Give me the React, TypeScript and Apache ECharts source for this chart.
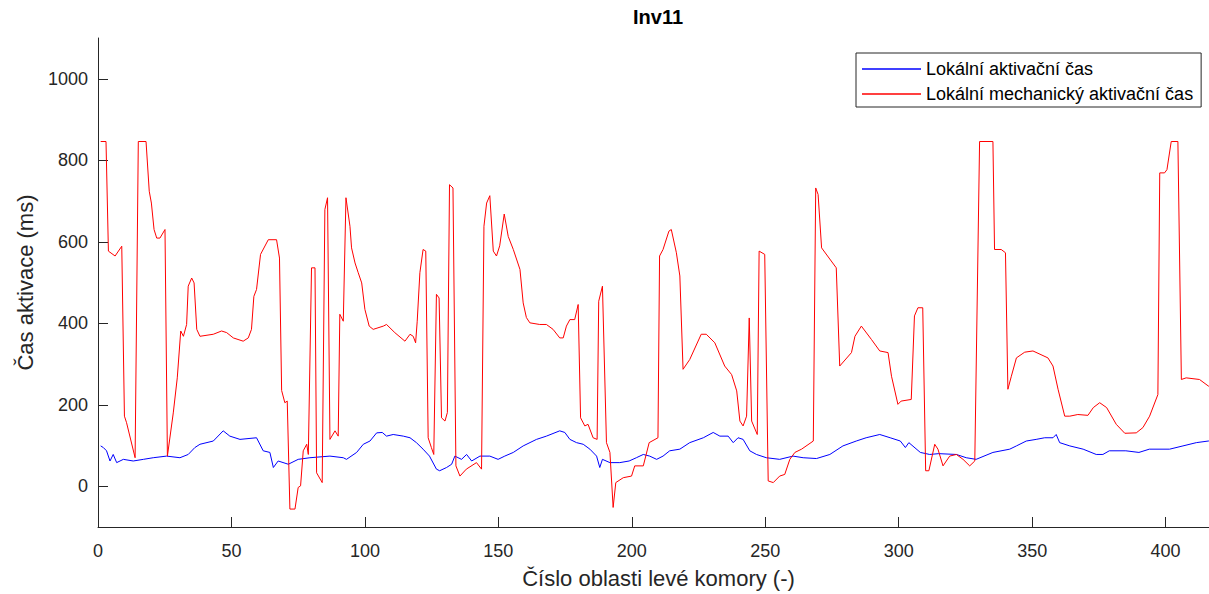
import React, { useEffect, useRef } from "react";
import * as echarts from "echarts";

const FONT = '"Liberation Sans", Arial, Helvetica, sans-serif';
const AXIS_COLOR = "#262626";

const titleText = "Inv11";
const xAxisTitle = "Číslo oblasti levé komory (-)";
const yAxisTitle = "Čas aktivace (ms)";
const seriesNames = ["Lokální aktivační čas", "Lokální mechanický aktivační čas"];

const xTicks = [0, 50, 100, 150, 200, 250, 300, 350, 400];
const yTicks = [0, 200, 400, 600, 800, 1000];

// Lokální aktivační čas (blue)
const localActivation: [number, number][] = [
  [1, 99], [2, 95], [3.2, 87], [4.5, 62], [5.7, 78], [7, 58], [9.5, 66], [13.2, 62], [17, 66],
  [20.7, 70], [25.7, 74], [30.7, 70], [33.8, 78], [36.3, 95], [38.2, 103], [43.2, 111], [46.9, 136],
  [49.4, 123], [53.2, 115], [59.4, 119], [61.9, 87], [64.4, 83], [65.7, 46], [67.5, 62], [71.3, 54],
  [75, 66], [79.4, 70], [86.9, 74], [91.9, 70], [93.1, 66], [96.9, 83], [99.4, 103], [101.9, 111],
  [104.4, 131], [106.5, 132], [108.1, 123], [110.6, 127], [114.4, 123], [116.9, 119], [119.3, 107],
  [121.8, 91], [124.2, 74], [126.8, 42], [128, 38], [130.6, 46], [132.5, 54], [133.7, 74], [136.2, 66],
  [138.1, 78], [140, 62], [143.1, 74], [146.8, 74], [149.9, 66], [152.4, 74], [155.6, 83], [159.3, 99],
  [164.3, 115], [168, 123], [173, 136], [174.9, 132], [176.8, 115], [179.3, 107], [181.8, 103],
  [184.3, 91], [186.8, 74], [188, 46], [189, 66], [191.8, 58], [195.5, 58], [199, 62], [201.7, 70],
  [204.3, 78], [206.7, 74], [209.3, 66], [211.7, 74], [214.2, 87], [218, 91], [221.7, 107],
  [226.8, 119], [230.5, 132], [233, 123], [236.1, 123], [238, 107], [239.8, 119], [241.7, 115],
  [244.2, 87], [246.7, 78], [250.4, 70], [255.4, 66], [260.4, 74], [264.2, 70], [269.2, 68],
  [274.2, 78], [279.1, 99], [284.1, 111], [287.8, 119], [292.9, 127], [296.8, 119], [300.6, 111],
  [302.5, 95], [303.8, 107], [308.1, 83], [311.6, 78], [315, 80], [321.6, 78], [325.3, 70], [329, 66],
  [335.3, 83], [341.6, 91], [344.1, 99], [347.8, 111], [351.5, 115], [354.7, 119], [357.8, 119],
  [359, 127], [360.3, 107], [364.1, 99], [369.1, 91], [374, 78], [376.5, 78], [378.9, 87], [385.1, 87],
  [390, 83], [393.9, 91], [401.5, 91], [406.5, 99], [411.5, 107], [416, 111], [418, 112],
];

// Lokální mechanický aktivační čas (red)
const mechanicalActivation: [number, number][] = [
  [1, 846], [3, 846], [3.9, 577], [6.4, 565], [8.9, 589], [9.9, 172], [10.7, 156], [13.9, 70],
  [15.1, 846], [18, 846], [19.2, 724], [20, 695], [21, 630], [22, 609], [23.2, 609], [25.1, 630],
  [26, 74], [28.2, 180], [29.7, 266], [31, 381], [32, 368], [33.2, 397], [33.8, 491], [35.1, 511],
  [36, 499], [37, 385], [38.2, 368], [43.2, 373], [46.3, 381], [48.2, 377], [50.7, 364], [54.4, 356],
  [56.3, 364], [57.5, 385], [58.4, 466], [59.4, 483], [60.9, 569], [63.8, 605], [66.9, 605],
  [68, 560], [68.8, 235], [70, 205], [70.9, 209], [71.9, -56], [73.8, -56], [75, -3], [75.9, 1],
  [76.9, 87], [78.2, 103], [78.8, 78], [80, 536], [81.3, 536], [81.9, 33], [84, 9], [85, 679],
  [86, 708], [86.9, 115], [88.8, 136], [90, 123], [90.6, 422], [91.9, 405], [92.9, 708], [94.4, 638],
  [95, 585], [96.3, 548], [97.5, 524], [98.8, 499], [100, 434], [101.6, 393], [103.1, 385],
  [106.9, 393], [108.1, 397], [111.2, 377], [115, 356], [116.9, 373], [118.1, 368], [119, 352],
  [119.6, 405], [120.6, 524], [121.8, 581], [122.8, 577], [123.7, 119], [124.9, 95], [125.8, 78],
  [126.8, 471], [127.8, 462], [128.7, 168], [130, 160], [130.9, 181], [131.7, 740], [133, 732],
  [134.1, 50], [135.6, 25], [138, 42], [141.8, 58], [143.7, 42], [144.6, 638], [145.6, 695],
  [146.8, 713], [148.1, 577], [149.3, 565], [150.5, 590], [152.2, 668], [153.7, 613], [155.6, 581],
  [158.1, 532], [159.3, 450], [160.5, 414], [161.8, 401], [165.5, 397], [168, 397], [170.5, 385],
  [173, 364], [174.3, 364], [175.5, 393], [176.8, 409], [178.6, 409], [179.9, 446], [180.8, 168],
  [182.4, 148], [183.6, 152], [185.5, 119], [187, 115], [187.6, 454], [189, 491], [190.5, 107],
  [191.8, 83], [193, -52], [194, 9], [196.8, 21], [199.9, 25], [201.1, 50], [204.3, 50], [206.5, 107],
  [209.8, 119], [210.4, 565], [211.7, 581], [213.9, 626], [214.8, 630], [216.7, 573], [218, 516],
  [219.2, 287], [221.7, 311], [226, 373], [227.9, 373], [231.1, 352], [234.8, 295], [237.4, 274],
  [239.3, 234], [240.5, 160], [241.7, 148], [243, 172], [244, 413], [244.9, 160], [247, 127],
  [247.7, 577], [249.8, 569], [251.1, 13], [253, 9], [255.4, 25], [257.3, 29], [259.2, 66],
  [261.1, 83], [263.6, 91], [268, 111], [268.9, 732], [269.8, 716], [271.1, 585], [276.6, 536],
  [277.9, 295], [282.3, 328], [283.6, 368], [286, 393], [289.8, 360], [292.9, 332], [296, 328],
  [297.3, 270], [299.7, 201], [300.9, 209], [304.7, 213], [305.9, 418], [307.2, 438], [309, 438],
  [310.1, 38], [311.3, 38], [313.5, 103], [314.7, 91], [316.6, 50], [319.1, 74], [321.6, 78],
  [324.1, 66], [326.6, 50], [328.5, 62], [330.3, 846], [335.3, 846], [335.9, 581], [338.4, 581],
  [340, 573], [340.9, 238], [342.2, 270], [344.1, 315], [347.2, 329], [350.3, 332], [355.9, 315],
  [357.8, 295], [359.7, 238], [362.2, 172], [364.1, 172], [367.1, 176], [370.9, 174], [372.9, 193],
  [375.3, 205], [377.9, 193], [381.5, 152], [384.7, 130], [389, 131], [391.5, 144], [394, 172],
  [397.1, 225], [397.8, 769], [399.6, 769], [400.5, 777], [402.1, 846], [404.6, 846], [405.9, 262],
  [407.7, 266], [412.7, 262], [416, 246], [418, 240],
];

export default function App() {
  const ref = useRef<HTMLDivElement>(null);

  useEffect(() => {
    if (!ref.current) return;
    const chart = echarts.init(ref.current, undefined, { renderer: "svg" });
    const axisCommon = {
      type: "value" as const,
      axisLine: { show: true, onZero: false, lineStyle: { color: AXIS_COLOR, width: 1 } },
      splitLine: { show: false },
      nameLocation: "middle" as const,
      nameTextStyle: { fontFamily: FONT, fontSize: 22, color: AXIS_COLOR },
    };
    const plain = (v: number) => String(v);
    chart.setOption({
      animation: false,
      backgroundColor: "#ffffff",
      title: {
        text: titleText,
        left: 658,
        top: 7,
        padding: 0,
        textAlign: "center",
        textStyle: { fontFamily: FONT, fontSize: 20, fontWeight: "bold", color: "#000000" },
      },
      grid: { left: 98, top: 38, width: 1121, height: 490 },
      xAxis: {
        ...axisCommon,
        min: 0,
        max: 420,
        name: xAxisTitle,
        nameGap: 40,
        axisTick: { show: true, inside: true, length: 10, customValues: xTicks, lineStyle: { color: AXIS_COLOR } },
        axisLabel: { customValues: xTicks, formatter: plain, margin: 15, fontFamily: FONT, fontSize: 18, color: AXIS_COLOR },
      },
      yAxis: {
        ...axisCommon,
        min: -100,
        max: 1100,
        name: yAxisTitle,
        nameGap: 62,
        axisTick: { show: true, inside: true, length: 10, customValues: yTicks, lineStyle: { color: AXIS_COLOR } },
        axisLabel: { customValues: yTicks, formatter: plain, margin: 10, fontFamily: FONT, fontSize: 18, color: AXIS_COLOR },
      },
      legend: {
        orient: "vertical",
        left: 856,
        top: 53,
        padding: [7, 8, 4, 6],
        itemGap: 7,
        itemWidth: 59,
        itemHeight: 1.5,
        icon: "rect",
        backgroundColor: "#ffffff",
        borderColor: AXIS_COLOR,
        borderWidth: 1,
        borderRadius: 0,
        textStyle: { fontFamily: FONT, fontSize: 18, color: "#000000" },
        data: seriesNames,
      },
      series: [
        {
          name: seriesNames[0],
          type: "line",
          data: localActivation,
          showSymbol: false,
          symbol: "none",
          color: "#0000ff",
          lineStyle: { color: "#0000ff", width: 1 },
          itemStyle: { color: "#0000ff" },
        },
        {
          name: seriesNames[1],
          type: "line",
          data: mechanicalActivation,
          showSymbol: false,
          symbol: "none",
          color: "#ff0000",
          lineStyle: { color: "#ff0000", width: 1 },
          itemStyle: { color: "#ff0000" },
        },
      ],
    });
    return () => chart.dispose();
  }, []);

  return (
    <div style={{ position: "absolute", left: 0, top: 0, width: 1209, height: 594, overflow: "hidden", background: "#fff" }}>
      <div ref={ref} style={{ width: 1222, height: 594 }} />
    </div>
  );
}
